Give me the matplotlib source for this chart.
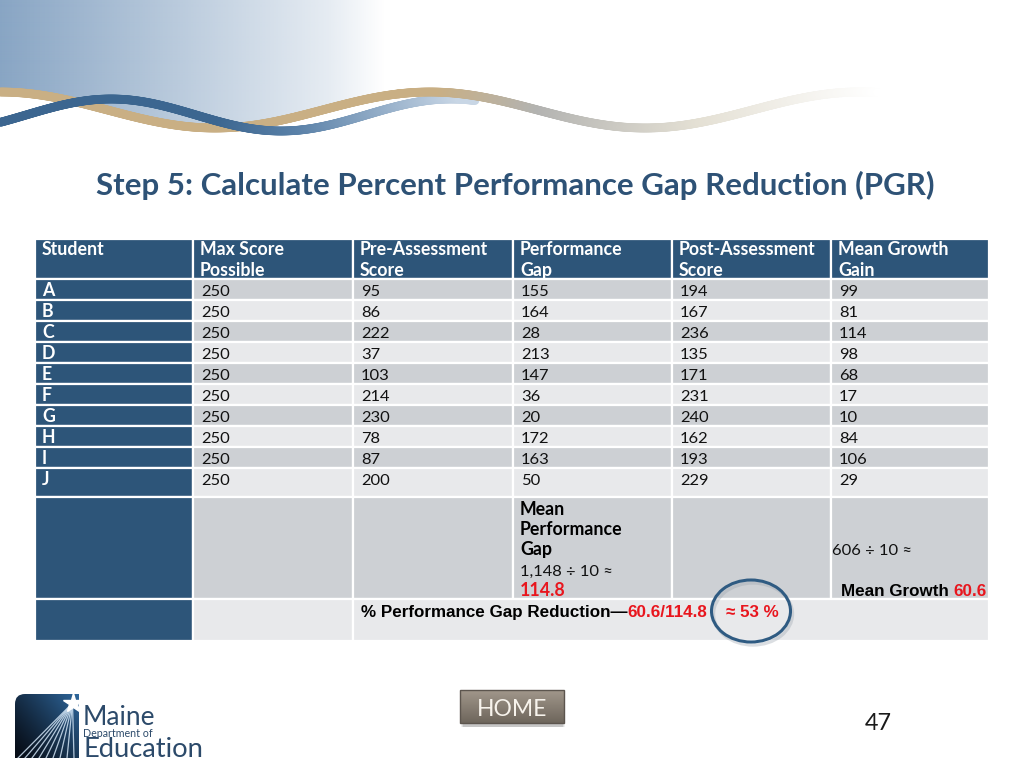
import numpy as np
import matplotlib
matplotlib.use("Agg")
import matplotlib.pyplot as plt
from matplotlib.patches import Rectangle, Ellipse, PathPatch, Polygon
from matplotlib.path import Path
from matplotlib.collections import LineCollection
from matplotlib.colors import to_rgb

# ---------------- data ----------------
title = "Step 5: Calculate Percent Performance Gap Reduction (PGR)"
header_line1 = ["Student", "Max Score", "Pre-Assessment", "Performance", "Post-Assessment", "Mean Growth"]
header_line2 = ["", "Possible", "Score", "Gap", "Score", "Gain"]
students = ["A", "B", "C", "D", "E", "F", "G", "H", "I", "J"]
max_score = [250, 250, 250, 250, 250, 250, 250, 250, 250, 250]
pre_scores = [95, 86, 222, 37, 103, 214, 230, 78, 87, 200]
perf_gap = [155, 164, 28, 213, 147, 36, 20, 172, 163, 50]
post_scores = [194, 167, 236, 135, 171, 231, 240, 162, 193, 229]
growth_gain = [99, 81, 114, 98, 68, 17, 10, 84, 106, 29]
mean_gap_label = ["Mean", "Performance", "Gap"]
mean_gap_calc = "1,148 \u00f7 10 \u2248"
mean_gap_value = "114.8"
mean_growth_calc = "606 \u00f7 10 \u2248"
mean_growth_label = "Mean Growth"
mean_growth_value = "60.6"
pgr_label = "% Performance Gap Reduction\u2014"
pgr_calc = "60.6/114.8"
pgr_result = "\u2248 53 %"
page_number = "47"
home_label = "HOME"
logo_lines = ["Maine", "Department of", "Education"]

# ---------------- style ----------------
BODY = ["Lato", "DejaVu Sans"]
ARIAL = ["Liberation Sans", "DejaVu Sans"]
BLUE = "#2D5579"
DARK = "#CDD0D4"
LIGHT = "#E8E9EB"
RED = "#E8161E"
TITLE_C = "#2E5276"

fig = plt.figure(figsize=(10.24, 7.68), dpi=100)
ax = fig.add_axes([0, 0, 1, 1])
ax.set_xlim(0, 1024)
ax.set_ylim(768, 0)
ax.axis("off")
R = fig.canvas.get_renderer()


def width_of(s, size, family, weight):
    t = ax.text(0, 0, s, fontsize=size, family=family, fontweight=weight)
    w = t.get_window_extent(R).width
    t.remove()
    return w


def fit(s, target, family, weight, base=12.0):
    return base * target / width_of(s, base, family, weight)


def txt(x, y, s, size, family=BODY, weight="normal", color="black", ha="left", va="baseline", z=5):
    return ax.text(x, y, s, fontsize=size, family=family, fontweight=weight,
                   color=color, ha=ha, va=va, zorder=z)


def blend(c1, c2, f):
    return np.array(to_rgb(c1)) * (1 - f) + np.array(to_rgb(c2)) * f


# ---------------- background gradient + waves ----------------
W = 420
xs = np.linspace(0, W, W)
alpha = np.interp(xs, [0, 170, 330, 385, W], [1.0, 0.6, 0.21, 0.0, 0.0])
img = np.zeros((2, W, 4))
img[..., :3] = to_rgb("#88A5C4")
img[..., 3] = alpha[None, :]
gimg = ax.imshow(img, extent=(0, W, 135, 0), aspect="auto", zorder=0, interpolation="bilinear")
xc = np.linspace(0, W, 200)
tan_c = 110 - 18 * np.cos(2 * np.pi * xc / 430)
clip_poly = Polygon(np.vstack([[[0, 0], [W, 0]], np.column_stack([xc[::-1], tan_c[::-1]])]),
                    closed=True, transform=ax.transData)
gimg.set_clip_path(clip_poly)


def wave(xw, yw, colfun, lw, z):
    pts = np.column_stack([xw, yw]).reshape(-1, 1, 2)
    segs = np.concatenate([pts[:-1], pts[1:]], axis=1)
    xm = 0.5 * (xw[:-1] + xw[1:])
    cols = [colfun(x) for x in xm]
    ax.add_collection(LineCollection(segs, colors=cols, linewidths=lw, zorder=z,
                                     capstyle="round", joinstyle="round"))


def tan_col(x):
    if x < 440:
        return blend("#C9AF84", "#C9AF84", 0)
    if x < 540:
        return blend("#C9AF84", "#B3B3B1", (x - 440) / 100)
    if x < 700:
        return blend("#B3B3B1", "#E4E0D4", (x - 540) / 160)
    return blend("#E4E0D4", "#FFFFFF", min(1, (x - 700) / 180))


def blue_col(x):
    if x < 220:
        return blend("#3C6690", "#3C6690", 0)
    if x < 300:
        return blend("#3C6690", "#5A81A8", (x - 220) / 80)
    return blend("#5A81A8", "#C8D6E5", min(1, (x - 300) / 160))


xw1 = np.linspace(0, 400, 420)
wave(xw1, 110 - 18 * np.cos(2 * np.pi * xw1 / 430), tan_col, 6.3, 1)
xb = np.linspace(0, 475, 560)
wave(xb, 115 - 16 * np.cos(2 * np.pi * (xb - 111) / 340), blue_col, 6.3, 2)
xw2 = np.linspace(398, 880, 500)
wave(xw2, 110 - 18 * np.cos(2 * np.pi * xw2 / 430), tan_col, 6.3, 2.5)

# ---------------- title ----------------
ts = fit(title, 836, BODY, "bold")
txt(515, 195, title, ts, weight="bold", color=TITLE_C, ha="center")

# ---------------- table ----------------
col_x = [35, 193, 353, 513, 672, 831, 989]
row_y = [239, 279, 300, 321, 342, 363, 384, 405, 426, 447, 468, 497, 599, 641]


def cell(x0, x1, y0, y1, fc):
    ax.add_patch(Rectangle((x0, y0), x1 - x0, y1 - y0, facecolor=fc, edgecolor="white",
                           linewidth=1.6, zorder=3))


for j in range(6):
    cell(col_x[j], col_x[j + 1], row_y[0], row_y[1], BLUE)
for i in range(10):
    for j in range(6):
        fc = BLUE if j == 0 else (DARK if i % 2 == 0 else LIGHT)
        cell(col_x[j], col_x[j + 1], row_y[i + 1], row_y[i + 2], fc)
for j in range(6):
    cell(col_x[j], col_x[j + 1], row_y[11], row_y[12], BLUE if j == 0 else DARK)
cell(col_x[0], col_x[1], row_y[12], row_y[13], BLUE)
cell(col_x[1], col_x[2], row_y[12], row_y[13], LIGHT)
cell(col_x[2], col_x[6], row_y[12], row_y[13], LIGHT)

hs = fit("Post-Assessment", 135, BODY, "bold")
bs = fit("250", 28.5, BODY, "normal")

for j in range(6):
    txt(col_x[j] + 7, 255, header_line1[j], hs, weight="bold", color="white")
    if header_line2[j]:
        txt(col_x[j] + 7, 276, header_line2[j], hs, weight="bold", color="white")

columns = [max_score, pre_scores, perf_gap, post_scores, growth_gain]
for i in range(10):
    base = row_y[i + 1] + 17
    txt(col_x[0] + 7, base, students[i], hs, weight="bold", color="white")
    for j, col in enumerate(columns):
        txt(col_x[j + 1] + 8, base, str(col[i]), bs, color="#111111")

mx = col_x[3] + 7
for k, s in enumerate(mean_gap_label):
    txt(mx, 515 + 20 * k, s, hs, weight="bold")
txt(mx, 576, mean_gap_calc, bs, color="#111111")
txt(mx, 596, mean_gap_value, hs, weight="bold", color=RED)
txt(col_x[5] + 1, 555, mean_growth_calc, bs, color="#111111")

asz = fit(pgr_label + pgr_calc, 346, ARIAL, "bold")
sp = width_of("a a", asz, ARIAL, "bold") - width_of("aa", asz, ARIAL, "bold")
t = txt(987, 596, mean_growth_value, asz, family=ARIAL, weight="bold", color=RED, ha="right")
x0 = t.get_window_extent(R).x0
txt(x0 - sp, 596, mean_growth_label, asz, family=ARIAL, weight="bold", ha="right")

t = txt(361, 617, pgr_label, asz, family=ARIAL, weight="bold")
x1 = t.get_window_extent(R).x1
txt(x1, 617, pgr_calc, asz, family=ARIAL, weight="bold", color=RED)
txt(752, 617, pgr_result, asz, family=ARIAL, weight="bold", color=RED, ha="center")

ax.add_patch(Ellipse((753, 614), 79, 62, fill=False, edgecolor="#9AA3AD", linewidth=2.4,
                     alpha=0.35, zorder=6))
ax.add_patch(Ellipse((751, 611), 79, 62, fill=False, edgecolor="#2F5B82", linewidth=2.2, zorder=7))

# ---------------- HOME button ----------------
for k, a in enumerate([0.06, 0.08, 0.10]):
    ax.add_patch(Rectangle((461 + k, 693 + k), 104 - 2 * k, 34 - k, facecolor="black", alpha=a,
                           edgecolor="none", zorder=3))
bimg = np.zeros((40, 2, 3))
for r in range(40):
    bimg[r, :, :] = blend("#A1978B", "#6E665C", r / 39)
ax.imshow(bimg, extent=(460, 564, 723, 690), aspect="auto", zorder=4, interpolation="bilinear")
ax.add_patch(Rectangle((460, 690), 104, 33, fill=False, edgecolor="#5C554E", linewidth=1.0, zorder=5))
txt(512.5, 716, home_label, 16.5, weight="normal", color="#F7F3EC", ha="center", z=6)

# ---------------- page number ----------------
psz = fit(page_number, 27, BODY, "normal")
txt(878, 730, page_number, psz, color="#1A1A1A", ha="center")

# ---------------- logo ----------------
lp = Path([(15, 758), (15, 704), (15, 694), (25, 694), (79, 694), (79, 758), (15, 758)],
          [Path.MOVETO, Path.LINETO, Path.CURVE3, Path.CURVE3, Path.LINETO, Path.LINETO, Path.CLOSEPOLY])
lpatch = PathPatch(lp, facecolor="none", edgecolor="none", transform=ax.transData)
ax.add_patch(lpatch)
N = 64
X, Y = np.meshgrid(np.linspace(0, 1, N), np.linspace(0, 1, N))
tt = np.clip(0.55 * X + 0.45 * (1 - Y), 0, 1) ** 1.2
c_dark = np.array(to_rgb("#060B14"))
c_blue = np.array(to_rgb("#2F679C"))
limg = c_dark[None, None, :] * (1 - tt[..., None]) + c_blue[None, None, :] * tt[..., None]
li = ax.imshow(limg, extent=(15, 79, 758, 694), aspect="auto", zorder=4, interpolation="bilinear")
li.set_clip_path(lpatch)
star = (72.5, 703)
ray_ends = [18, 25, 32, 39, 46, 53, 60, 67, 74]
for xe in ray_ends:
    ln, = ax.plot([star[0], xe], [star[1], 758], color="#CFE2F3", lw=0.9, alpha=0.85, zorder=5)
    ln.set_clip_path(lpatch)
ax.plot([star[0]], [star[1]], marker="*", ms=15, color="white", mec="white", zorder=6)

LOGO_C = "#2C4A6A"
s1 = fit(logo_lines[0], 72, BODY, "normal")
txt(83, 725, logo_lines[0], s1, color=LOGO_C)
s2 = fit(logo_lines[1], 69, BODY, "normal")
txt(83, 737, logo_lines[1], s2, color=LOGO_C)
s3 = fit(logo_lines[2], 120, BODY, "normal")
txt(83, 757, logo_lines[2], s3, color=LOGO_C)

fig.savefig("out.png", dpi=100)
